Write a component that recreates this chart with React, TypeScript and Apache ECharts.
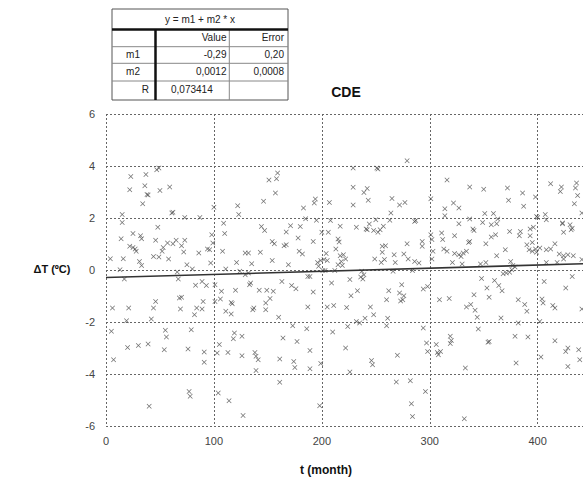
import React, { useEffect, useRef } from 'react';
import * as echarts from 'echarts';

const months = [
  23, 37, 47, 49, 22, 36, 38, 39, 50, 59, 34, 61, 62, 73, 87, 15, 15, 48, 100, 109, 122, 123,
  146, 151, 159, 158, 157, 183, 194, 193, 185, 195, 144, 171, 180, 207, 208, 217, 229, 251, 252, 229,
  239, 242, 243, 229, 265, 272, 277, 264, 263, 250, 244, 257, 232, 279,
  286, 287, 301, 316, 337, 350, 322, 314, 327, 314, 337, 327, 351, 359, 363, 357, 362, 372, 373, 386,
  387, 398, 399, 400, 407, 408, 412, 422, 421, 436, 435, 437, 434, 441, 423, 432, 340, 396,
  14, 25, 32, 33, 46, 22, 25, 27, 28, 4, 16, 31, 33, 44, 49, 52, 53, 57, 62, 65, 73, 70, 58, 72, 75, 80,
  66, 67, 86, 94, 96, 98, 99, 97, 108, 110, 111, 13, 17, 83, 89, 93, 101, 107, 120, 70, 68, 46, 44, 6,
  21, 69, 84, 89, 90, 82, 101, 106, 116, 117, 111, 116, 42, 19, 5, 55, 56, 79, 119, 118, 105, 20, 30, 39,
  7, 54, 76, 91, 91, 103, 113, 77, 78, 104, 114, 40,
  147, 167, 242, 200, 206, 178, 154, 156, 165, 167, 192, 215, 216, 213, 129, 132, 143, 179, 182, 204,
  202, 217, 220, 222, 218, 219, 215, 121, 135, 154, 169, 196, 199, 205, 197, 201, 203, 212, 124, 129,
  132, 237, 239, 236, 238, 266, 249, 255, 258, 256, 259, 256, 252, 254, 248, 241, 268, 267, 276, 279,
  280, 189, 187, 209, 226, 163, 172, 176, 134, 133, 142, 149, 155, 152, 148, 148, 192, 233, 227, 262,
  274, 276, 275, 273, 260, 137, 136, 187, 205, 211, 223, 245, 248, 160, 240, 232, 235, 261, 260, 173,
  186, 210, 224, 126, 164, 177, 222,
  126, 138, 139, 141, 139, 161, 174, 175, 189, 189, 199, 161, 226, 246, 247, 270, 269, 127, 198,
  297, 306, 298, 307, 308, 310, 319, 354, 333, 380, 403, 416, 426, 428, 438, 439, 282, 296, 283, 284, 332,
  349, 301, 302, 311, 312, 323, 303, 293, 293, 286, 290, 302, 313, 316, 323, 327, 331, 329, 334, 321,
  330, 336, 337, 352, 357, 361, 341, 347, 352, 362, 370, 374, 383, 384, 393, 393, 395, 390, 392, 395,
  398, 399, 402, 408, 412, 375, 377, 379, 376, 368, 371, 374, 284, 408, 418, 420, 424, 428, 433, 424,
  441, 416, 423, 424, 431, 430, 272, 294, 298, 309, 318, 348, 353, 360, 364, 367, 355, 341, 334, 338,
  342, 344, 345, 294, 382, 388, 390, 366, 404, 405, 406, 414, 416, 426, 432, 441, 402, 382, 391, 379,
  355, 319, 320, 428,
];

const deltaT = [
  3.6, 3.67, 3.86, 3.92, 3.09, 3.24, 2.9, 2.88, 3.06, 3.19, 2.55, 2.19, 2.22, 2.02, 2.02, 2.13, 1.83, 1.64, 2.41, 1.8, 2.47, 2.13,
  2.64, 3.46, 3.73, 3.51, 2.96, 2.38, 2.73, 2.58, 1.97, 1.91, 1.67, 1.7, 1.67, 2.6, 1.9, 1.68, 3.92, 3.92, 3.88, 3.18,
  2.98, 3.13, 2.68, 2.5, 2.75, 2.5, 2.6, 2.19, 1.91, 1.93, 1.77, 1.68, 1.64, 4.2,
  1.87, 1.9, 2.74, 3.46, 3.19, 3.11, 2.58, 2.36, 2.38, 2.09, 1.96, 1.78, 2.17, 2.17, 1.96, 1.74, 1.78, 3.15, 2.68, 2.96,
  2.45, 2.81, 2.06, 2.02, 2.13, 1.93, 3.32, 3.19, 3.02, 3.35, 3.15, 2.87, 2.55, 2.19, 1.78, 1.61, 1.58, 1.64,
  1.2, 1.4, 1.32, 1.2, 1.14, 0.91, 0.87, 0.81, 0.72, 0.43, 0.43, 0.33, 0.17, 0.52, 0.5, 0.72, 0.87, 1.04, 1.01, 1.14, 1.14, 0.93, 0.42, 0.69, 0.2, 0.04,
  -0.08, -0.35, 0.65, 0.81, 0.78, 1.36, 1.04, 0.27, 0.72, 1.4, 0.04, 0.01, -0.35, -0.59, -0.44, -0.6, -0.57, -0.82, -0.78, -1.05, -1.08, -1.21, -1.46, -1.46,
  -1.46, -1.5, -1.46, -1.5, -1.21, -1.72, -1.21, -1.12, -1.25, -1.3, -1.59, -1.69, -1.88, -1.95, -2.36, -2.32, -2.58, -2.3, -2.42, -2.64, -2.87, -2.98, -2.9, -2.85,
  -3.45, -3.07, -3.04, -3.15, -3.55, -3.19, -3.17, -4.67, -4.86, -4.73, -5.03, -5.24,
  1.52, 1.46, 1.55, 1.45, 1.45, 1.23, 1.1, 1.01, 0.93, 0.97, 1.1, 1.19, 1.08, 0.81, 0.65, 0.65, 0.68, 0.72, 0.62, 0.63,
  0.4, 0.55, 0.59, 0.42, 0.33, 0.17, 0.2, 0.29, 0.24, 0.37, 0.2, 0.29, 0.37, 0.37, 0.14, -0.02, -0.02, -0.02, -0.05, -0.18,
  -0.12, -0.05, -0.18, -0.27, -0.35, -0.05, 0.42, 0.29, 0.4, 0.68, 0.93, 0.91, 1.45, 1.55, 1.52, 1.58, 0.29, 0.59, 0.62, 1.01,
  0.42, -0.25, -0.25, -0.5, -0.37, -0.44, -0.6, -0.72, -0.5, -0.57, -0.78, -0.78, -0.82, -1.1, -1.27, -1.53, -0.85, -0.8, -0.99, -0.8,
  -0.57, -0.99, -1.14, -1.19, -1.14, -1.46, -1.53, -1.42, -1.42, -1.37, -1.44, -1.42, -1.72, -1.82, -1.86, -1.98, -2.04, -1.86, -2.14, -2.14,
  -2.26, -2.38, -2.17, -2.55, -2.62, -2.75, -3.0,
  -3.3, -3.17, -3.32, -3.45, -3.87, -3.42, -3.52, -3.75, -3.1, -3.8, -3.6, -4.32, -3.92, -3.48, -3.64, -3.28, -4.31, -5.6, -5.22,
  -2.81, -2.87, -3.13, -3.17, -3.26, -3.13, -2.83, -2.78, -3.77, -3.58, -3.35, -2.72, -3.13, -3.71, -3.07, -3.45, -4.26, -4.67, -5.14, -5.63, -5.72,
  1.83, 1.36, 1.17, 1.42, 1.17, 1.32, 0.72, 1.1, 0.91, 0.33, 0.27, 0.42, 0.81, 0.72, 0.63, 0.59, 0.65, 0.52, 0.72, 0.29,
  0.23, 1.06, 1.1, 1.01, 1.27, 1.36, 1.52, 0.23, 0.29, 0.55, 0.78, 1.48, 1.32, 1.48, 1.58, 1.32, 1.06, 0.97, 0.78, 0.72,
  0.81, 0.68, 0.85, 0.78, 0.81, 0.33, 0.17, 0.12, 0.01, -0.14, -0.12, -0.09, -0.02, 0.29, 0.29, 0.62, 0.55, 0.59, 0.55, 0.42,
  0.4, 1.01, 1.81, 1.45, 1.55, 1.74, -0.88, -0.73, -0.63, -1.14, -1.1, -0.33, -0.69, -0.4, -0.6, -0.8, -1.05, -0.95, -1.42, -1.33,
  -1.55, -1.82, -2.27, -2.23, -1.14, -1.33, -1.59, -1.85, -1.12, -1.27, -0.44, -1.37, -1.46, -0.69, -0.25, -1.5, -1.98, -2.04, -2.58, -2.55,
  -2.75, -2.55, -2.71, -3.0,
];

const xMin = 0;
const xMax = 442;
const xInterval = 100;
const yMin = -6;
const yMax = 6;
const yInterval = 2;

const fitM1 = -0.29;
const fitM2 = 0.0012;

const chartTitle = 'CDE';
const xName = 't (month)';
const yName = 'ΔT (ºC)';

const tableTitle = 'y = m1 + m2 * x';
const tableHeaders = ['Value', 'Error'];
const tableRowNames = ['m1', 'm2', 'R'];
const tableValues = ['-0,29', '0,0012', '0,073414'];
const tableErrors = ['0,20', '0,0008', ''];

const FONT = '"Liberation Sans", Arial, sans-serif';

export default function App() {
  const ref = useRef<HTMLDivElement>(null);

  useEffect(() => {
    const chart = echarts.init(ref.current!, null, { renderer: 'svg' });

    const points = months.map((m, i) => [m, deltaT[i]]);
    const fitLine = [
      [xMin, fitM1 + fitM2 * xMin],
      [xMax, fitM1 + fitM2 * xMax],
    ];

    const xSymbol =
      'path://M0,1L1,0L5,4L9,0L10,1L6,5L10,9L9,10L5,6L1,10L0,9L4,5Z';

    // table geometry
    const tL = 112, tR = 288, tT = 9, tB = 100;
    const rowLines = [46.7, 63.3, 81];
    const thickY = 29.5;
    const col1 = 155.5, col2 = 229.3;
    const rowCenters = [54.5, 71.5, 89.5];
    const tableText = (text: string, x: number, y: number, align: string) => ({
      type: 'text',
      silent: true,
      style: {
        text,
        x,
        y,
        textAlign: align,
        textVerticalAlign: 'middle',
        font: `10px ${FONT}`,
        fill: '#222',
      },
    });

    const graphics: any[] = [
      {
        type: 'rect',
        silent: true,
        shape: { x: tL, y: tT, width: tR - tL, height: tB - tT },
        style: { fill: '#fff', stroke: '#555', lineWidth: 1 },
      },
      ...rowLines.map((y) => ({
        type: 'line',
        silent: true,
        shape: { x1: tL, y1: y, x2: tR, y2: y },
        style: { stroke: '#888', lineWidth: 1 },
      })),
      {
        type: 'line',
        silent: true,
        shape: { x1: col2, y1: thickY, x2: col2, y2: tB },
        style: { stroke: '#888', lineWidth: 1 },
      },
      {
        type: 'line',
        silent: true,
        shape: { x1: tL, y1: thickY, x2: tR, y2: thickY },
        style: { stroke: '#111', lineWidth: 2.5 },
      },
      {
        type: 'line',
        silent: true,
        shape: { x1: col1, y1: thickY, x2: col1, y2: tB },
        style: { stroke: '#111', lineWidth: 2.5 },
      },
      tableText(tableTitle, (tL + tR) / 2, 19.5, 'center'),
      tableText(tableHeaders[0], 226.5, 37.5, 'right'),
      tableText(tableHeaders[1], 284, 37.5, 'right'),
      tableText(tableRowNames[0], 133, rowCenters[0], 'center'),
      tableText(tableRowNames[1], 133, rowCenters[1], 'center'),
      tableText(tableRowNames[2], 149, rowCenters[2], 'right'),
      tableText(tableValues[0], 226.5, rowCenters[0], 'right'),
      tableText(tableValues[1], 226.5, rowCenters[1], 'right'),
      tableText(tableValues[2], 171, rowCenters[2], 'left'),
      tableText(tableErrors[0], 284, rowCenters[0], 'right'),
      tableText(tableErrors[1], 284, rowCenters[1], 'right'),
      {
        type: 'text',
        silent: true,
        style: {
          text: chartTitle,
          x: 346,
          y: 92,
          textAlign: 'center',
          textVerticalAlign: 'middle',
          font: `bold 14px ${FONT}`,
          fill: '#111',
        },
      },
      {
        type: 'text',
        silent: true,
        style: {
          text: yName,
          x: 52,
          y: 269,
          textAlign: 'center',
          textVerticalAlign: 'middle',
          font: `bold 11px ${FONT}`,
          fill: '#111',
        },
      },
      {
        type: 'text',
        silent: true,
        style: {
          text: xName,
          x: 326,
          y: 470,
          textAlign: 'center',
          textVerticalAlign: 'middle',
          font: `bold 12px ${FONT}`,
          fill: '#111',
        },
      },
    ];

    const gridLine = {
      show: true,
      showMinLine: true,
      lineStyle: { color: '#666', width: 1, type: [2, 2] as any },
    };

    chart.setOption({
      animation: false,
      backgroundColor: '#fff',
      grid: { left: 106, right: 0, top: 114, bottom: 57, containLabel: false },
      xAxis: {
        type: 'value',
        min: xMin,
        max: xMax,
        interval: xInterval,
        axisLine: { show: false },
        axisTick: { show: false },
        axisLabel: {
          margin: 9,
          color: '#444',
          fontSize: 11,
          fontFamily: FONT,
          showMaxLabel: false,
          formatter: (v: number) => (v % xInterval === 0 ? String(v) : ''),
        },
        splitLine: { ...gridLine, showMaxLine: false },
      },
      yAxis: {
        type: 'value',
        min: yMin,
        max: yMax,
        interval: yInterval,
        axisLine: { show: false },
        axisTick: { show: false },
        axisLabel: {
          margin: 11,
          color: '#444',
          fontSize: 11,
          fontFamily: FONT,
        },
        splitLine: { ...gridLine, showMaxLine: true },
      },
      series: [
        {
          type: 'scatter',
          data: points,
          symbol: xSymbol,
          symbolSize: 5,
          itemStyle: { color: '#4a4a4a' },
          silent: true,
        },
        {
          type: 'line',
          data: fitLine,
          symbol: 'none',
          lineStyle: { color: '#333', width: 1.6 },
          silent: true,
        },
      ],
      graphic: graphics,
    });

    return () => chart.dispose();
  }, []);

  return (
    <div
      ref={ref}
      style={{ position: 'absolute', left: 0, top: 0, width: 583, height: 483, background: '#fff' }}
    />
  );
}
